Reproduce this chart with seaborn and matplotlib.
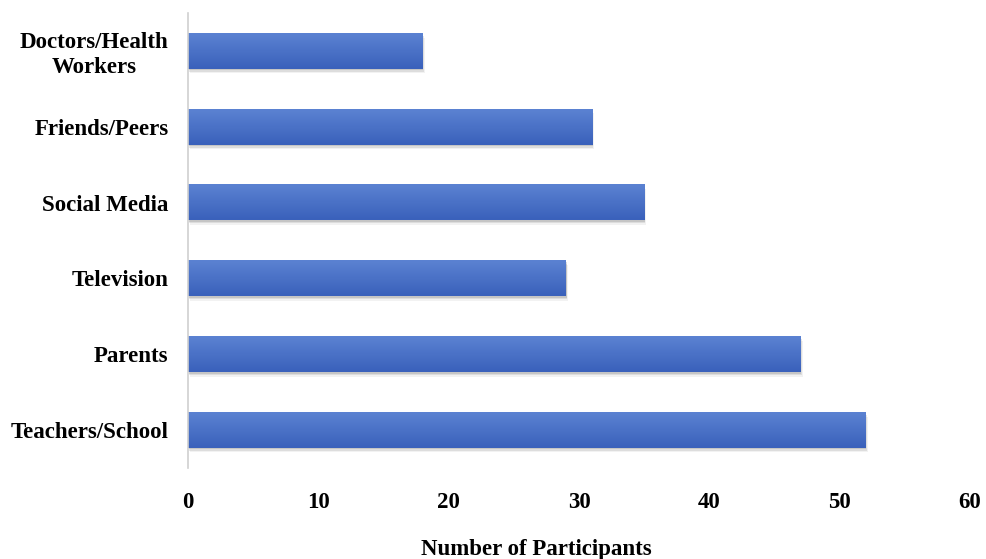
import numpy as np
import pandas as pd
import matplotlib
matplotlib.use("Agg")
import matplotlib.pyplot as plt
import seaborn as sns
from matplotlib.colors import LinearSegmentedColormap

sources = ["Doctors/Health\nWorkers", "Friends/Peers", "Social Media",
           "Television", "Parents", "Teachers/School"]
participants = [18, 31, 35, 29, 47, 52]

df = pd.DataFrame({"source": sources, "n": participants})

sns.set_style("white")
plt.rcParams["font.family"] = ["Liberation Serif", "DejaVu Serif"]
plt.rcParams["font.weight"] = "bold"

fig = plt.figure(figsize=(9.86, 5.59), dpi=100)
ax = fig.add_axes([0.1907, 0.1628, 0.7931, 0.8139])

sns.barplot(data=df, x="n", y="source", color="#4a70c8", width=0.47,
            orient="h", ax=ax, saturation=1)

# vertical gradient + soft shadow on each bar
grad = LinearSegmentedColormap.from_list("g", ["#5b82d2", "#3a61bb"])
for p in list(ax.patches):
    x0, y0 = p.get_x(), p.get_y()
    w, h = p.get_width(), p.get_height()
    for k, a in enumerate([0.25, 0.18, 0.1]):
        sh = plt.Rectangle((x0 + 0.05 * (k + 1), y0 + 0.02 * (k + 1)), w, h,
                           color="#808080", alpha=a, zorder=1, lw=0)
        ax.add_patch(sh)
    ax.imshow(np.linspace(0, 1, 50).reshape(-1, 1), cmap=grad, aspect="auto",
              extent=(x0, x0 + w, y0 + h, y0), zorder=2, interpolation="bilinear")
    p.set_visible(False)

ax.set_xlim(0, 60)
ax.set_ylim(5.5, -0.5)
ax.set_xticks(range(0, 61, 10))
ax.set_xlabel("Number of Participants", fontsize=16.5, fontweight="bold")
ax.xaxis.set_label_coords(0.445, -0.155)
ax.set_ylabel("")
ax.tick_params(axis="both", length=0, labelsize=16.5)
ax.tick_params(axis="y", pad=14)
ax.tick_params(axis="x", pad=17)
for lab in ax.get_xticklabels() + ax.get_yticklabels():
    lab.set_fontweight("bold")
    lab.set_color("black")
for lab in ax.get_yticklabels():
    lab.set_multialignment("center")
ax.xaxis.label.set_color("black")
for s in ["top", "right", "bottom"]:
    ax.spines[s].set_visible(False)
ax.spines["left"].set_color("#d0d0d0")
ax.spines["left"].set_linewidth(1.2)

fig.savefig("out.png", dpi=100)
